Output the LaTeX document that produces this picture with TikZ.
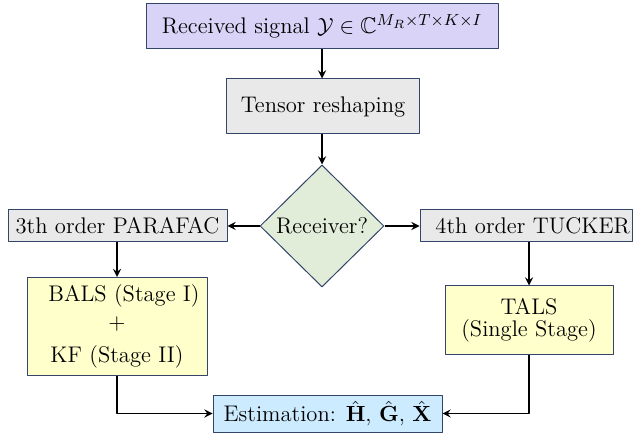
\documentclass[tikz,border=0pt]{standalone}
\usepackage{amsmath,amssymb}
\usetikzlibrary{shapes.geometric}
\definecolor{sigfill}{HTML}{DAD3F8}
\definecolor{greyfill}{HTML}{E9E9E9}
\definecolor{decfill}{HTML}{E1EDD9}
\definecolor{algfill}{HTML}{FFFFCC}
\definecolor{estfill}{HTML}{CDEBFF}
\definecolor{edgec}{HTML}{33466A}
\begin{document}
\begin{tikzpicture}[x=0.5pt,y=-0.5pt,font=\fontsize{11.3}{13.6}\selectfont, line join=round, >=stealth,
	box/.style={draw=edgec,line width=0.5pt,inner sep=0pt,align=center},
	arr/.style={->,line width=0.8pt}]
	\useasboundingbox (0,0) rectangle (633,433);
	% blocks
	\node[box,fill=sigfill,minimum width=176pt,minimum height=22.5pt] (sig) at (322,26.5) {Received signal $\mathcal{Y}\in\mathbb{C}^{M_R\times T\times K\times I}$};
	\node[box,fill=greyfill,minimum width=96.5pt,minimum height=27.5pt] (resh) at (323,106.5) {Tensor reshaping};
	\node[box,shape=diamond,aspect=1,fill=decfill,minimum width=62pt,minimum height=61pt] (dia) at (322,226) {Receiver?};
	\node[box,fill=greyfill,minimum width=109.5pt,minimum height=16pt] (parafac) at (117.5,226) {3th order PARAFAC};
	\node[box,fill=greyfill,inner xsep=1pt,text width=104pt,align=right,minimum height=16pt] (tucker) at (526,226) {4th order TUCKER};
	\node[box,fill=algfill,minimum width=90pt,minimum height=49pt] (bals) at (117,326.5) {\hspace*{7pt}BALS (Stage I)\\[0.4pt] $+$\hspace*{7pt}\\[2.9pt] KF (Stage II)};
	\node[box,fill=algfill,minimum width=84pt,minimum height=34.5pt] (tals) at (529,320.5) {TALS\\[-2.6pt](Single Stage)};
	\node[box,fill=estfill,minimum width=114.5pt,minimum height=18.5pt] (est) at (327.5,413.5) {Estimation: $\hat{\mathbf{H}}$, $\hat{\mathbf{G}}$, $\hat{\mathbf{X}}$};
	% links
	\draw[arr] (sig.south)--(sig.south |- resh.north);
	\draw[arr] (sig.south |- resh.south)--(dia.north);
	\draw[arr] (dia.west)--(parafac.east);
	\draw[arr] (dia.east)--(tucker.west);
	\draw[arr] (bals.north |- parafac.south)--(bals.north);
	\draw[arr] (tals.north |- tucker.south)--(tals.north);
	\draw[arr] (bals.south)|-(est.west);
	\draw[arr] (tals.south)|-(est.east);
\end{tikzpicture}
\end{document}
